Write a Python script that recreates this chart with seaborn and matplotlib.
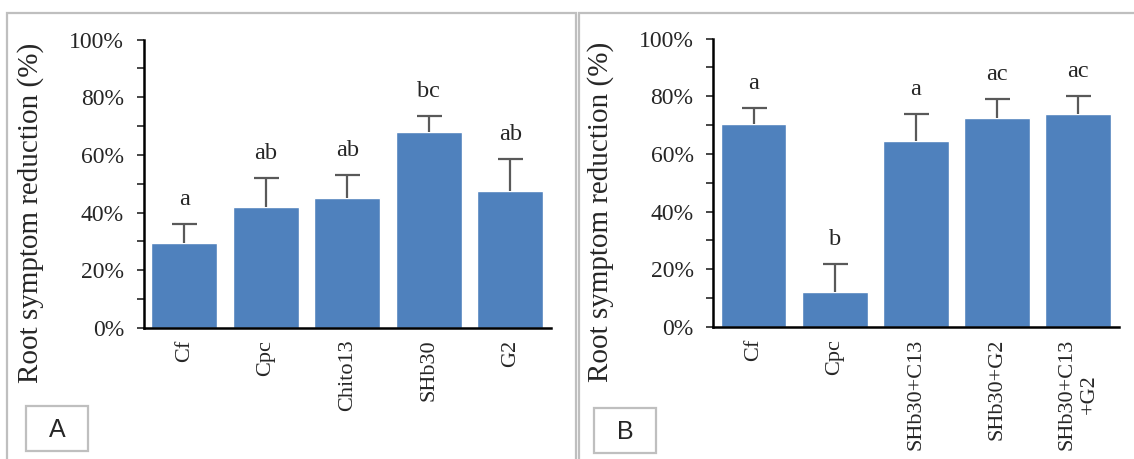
import seaborn as sns
import matplotlib.pyplot as plt
import matplotlib.patches as mpatches
from matplotlib.ticker import MultipleLocator, PercentFormatter
import pandas as pd

# panel A
cats_a = ['Cf', 'Cpc', 'Chito13', 'SHb30', 'G2']
vals_a = [29.5, 42, 45, 68, 47.5]
err_a = [6.5, 10, 8, 5.5, 11]
letters_a = ['a', 'ab', 'ab', 'bc', 'ab']

# panel B
cats_b = ['Cf', 'Cpc', 'SHb30+C13', 'SHb30+G2', 'SHb30+C13\n+G2']
vals_b = [70.5, 12, 64.5, 72.5, 74]
err_b = [5.5, 10, 9.5, 6.5, 6]
letters_b = ['a', 'b', 'a', 'ac', 'ac']

sns.set_style('white')
plt.rcParams['font.family'] = ['Liberation Serif', 'DejaVu Serif']

W, H = 1134, 459
fig = plt.figure(figsize=(W / 100, H / 100), dpi=100)


def px_axes(x0, y0, x1, y1):
    return fig.add_axes([x0 / W, 1 - y1 / H, (x1 - x0) / W, (y1 - y0) / H])


def panel(ax, cats, vals, errs, letters):
    df = pd.DataFrame({'cat': cats, 'val': vals})
    sns.barplot(data=df, x='cat', y='val', color='#4F81BD', saturation=1,
                width=0.81, errorbar=None, ax=ax)
    xs = range(len(cats))
    _, caps, _ = ax.errorbar(xs, vals, yerr=[[0] * len(errs), errs], fmt='none',
                             ecolor='#595959', elinewidth=1.6, capsize=9, capthick=1.6)
    caps[0].set_visible(False)  # no cap at bar top
    for x, v, e, t in zip(xs, vals, errs, letters):
        ax.text(x, v + e + 6.5, t, ha='center', va='baseline', fontsize=17.5)
    ax.set_ylim(0, 100)
    ax.set_xlim(-0.5, len(cats) - 0.5)
    ax.yaxis.set_major_locator(MultipleLocator(20))
    ax.yaxis.set_minor_locator(MultipleLocator(10))
    ax.yaxis.set_major_formatter(PercentFormatter(decimals=0))
    ax.tick_params(axis='y', which='both', direction='out', left=True,
                   length=5, width=1.2, labelsize=17, pad=9)
    ax.tick_params(axis='x', bottom=False, labelsize=16, pad=5, labelrotation=90)
    for lab in ax.get_xticklabels():
        lab.set_multialignment('center')
    sns.despine(ax=ax)
    for s in ['left', 'bottom']:
        ax.spines[s].set_color('black')
        ax.spines[s].set_linewidth(1.8)
    ax.set_xlabel('')
    ax.set_ylabel('Root symptom reduction (%)', fontsize=21)
    ax.yaxis.set_label_coords(-0.244, 0.40)


ax1 = px_axes(143.5, 39.5, 551, 328)
panel(ax1, cats_a, vals_a, err_a, letters_a)
ax2 = px_axes(713, 38.5, 1118.6, 327)
panel(ax2, cats_b, vals_b, err_b, letters_b)

# grey panel frames and label boxes (figure pixel coords)
def frame(x0, y0, x1, y1, lw):
    fig.add_artist(mpatches.Rectangle((x0 / W, 1 - y1 / H), (x1 - x0) / W, (y1 - y0) / H,
                                      transform=fig.transFigure, fill=False,
                                      edgecolor='#BFBFBF', linewidth=lw, clip_on=False))

frame(7, 13, 576, 470, 1.6)
frame(578.5, 13, 1140, 470, 1.6)
frame(26, 406, 88, 451, 1.6)
frame(594, 408, 655.5, 453, 1.6)
fig.text(57 / W, 1 - 430 / H, 'A', ha='center', va='center', fontsize=18,
         family=['Liberation Sans', 'DejaVu Sans'])
fig.text(625 / W, 1 - 432 / H, 'B', ha='center', va='center', fontsize=18,
         family=['Liberation Sans', 'DejaVu Sans'])

fig.savefig('out.png', dpi=100, facecolor='white')
